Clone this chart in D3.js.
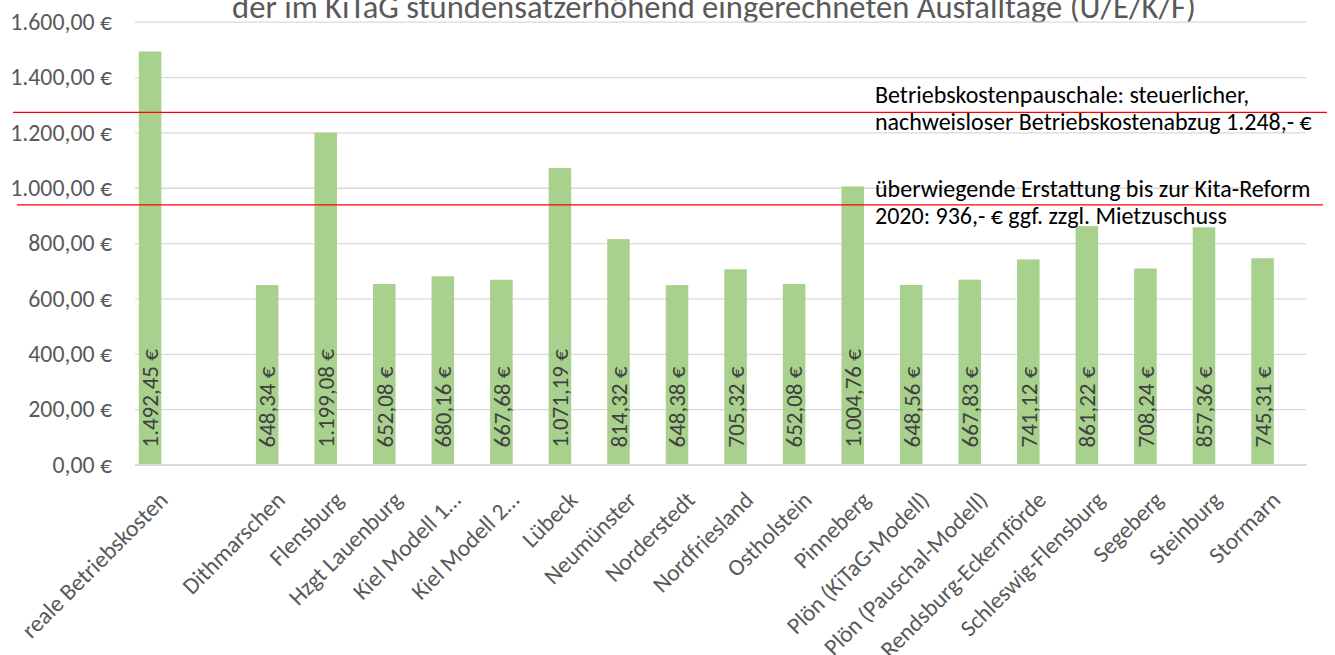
<!DOCTYPE html>
<html>
<head>
<meta charset="utf-8">
<script src="https://cdn.jsdelivr.net/npm/d3@7"></script>
<style>
  body { margin: 0; background: #fff; }
  svg { display: block; font-family: Carlito, Lato, "Open Sans", sans-serif; }
</style>
</head>
<body>
<div id="chart"></div>
<script>
// categories (one empty slot after the real costs)
const categories = ["reale Betriebskosten", " ", "Dithmarschen", "Flensburg", "Hzgt Lauenburg",
    "Kiel Modell 1…", "Kiel Modell 2…", "Lübeck", "Neumünster", "Norderstedt", "Nordfriesland",
    "Ostholstein", "Pinneberg", "Plön (KiTaG-Modell)", "Plön (Pauschal-Modell)",
    "Rendsburg-Eckernförde", "Schleswig-Flensburg", "Segeberg", "Steinburg", "Stormarn"];
const values = [1492.45, null, 648.34, 1199.08, 652.08, 680.16, 667.68, 1071.19, 814.32, 648.38,
    705.32, 652.08, 1004.76, 648.56, 667.83, 741.12, 861.22, 708.24, 857.36, 745.31];
const yTicks = [0, 200, 400, 600, 800, 1000, 1200, 1400, 1600];
// red reference lines as drawn in the picture
const refValues = [1272, 938];
const refTexts = [
    ["Betriebskostenpauschale: steuerlicher,", "nachweisloser Betriebskostenabzug 1.248,- €"],
    ["überwiegende Erstattung bis zur Kita-Reform", "2020: 936,- € ggf. zzgl. Mietzuschuss"]
];
const titleText = "der im KiTaG stundensatzerhöhend eingerechneten Ausfalltage (U/E/K/F)";

const width = 1335, height = 655;
const plot = {left: 135, right: 1306, top: 21.7, bottom: 464.5};

const de = d3.formatLocale({decimal: ",", thousands: ".", grouping: [3], currency: ["", " €"]});
const fmt = de.format("$,.2f");

const svg = d3.select("#chart").append("svg")
    .attr("width", width)
    .attr("height", height);

const x = d3.scaleBand().domain(categories).range([plot.left, plot.right]).padding(0);
const y = d3.scaleLinear().domain([0, 1600]).range([plot.bottom, plot.top]);

// title (only its lower part is visible, as in the original)
svg.append("text")
    .attr("x", 714)
    .attr("y", 18)
    .attr("text-anchor", "middle")
    .attr("font-size", 32.6)
    .attr("fill", "#595959")
    .text(titleText);

// y axis + gridlines
const yAxisG = svg.append("g")
    .attr("transform", `translate(${plot.left},0)`)
    .call(d3.axisLeft(y).tickValues(yTicks).tickSize(-(plot.right - plot.left)).tickPadding(23).tickFormat(fmt))
    .attr("font-family", null)
    .attr("font-size", null);
yAxisG.select(".domain").remove();
yAxisG.selectAll(".tick line").attr("stroke", "#d9d9d9").attr("stroke-width", 1.3);
yAxisG.selectAll(".tick text").attr("fill", "#595959").attr("font-size", 23.8);

// bars
const data = categories.map((c, i) => ({cat: c, value: values[i]})).filter(d => d.value != null);
const barOff = x.bandwidth() * 0.065, barW = x.bandwidth() * 0.385;

svg.append("g").selectAll("rect")
    .data(data)
    .join("rect")
    .attr("x", d => x(d.cat) + barOff)
    .attr("width", barW)
    .attr("y", d => y(d.value))
    .attr("height", d => y(0) - y(d.value))
    .attr("fill", "#a9d18e");

// value labels, vertical at the bar base
svg.append("g").selectAll("text")
    .data(data)
    .join("text")
    .attr("transform", d => `translate(${x(d.cat) + barOff + barW / 2},${y(0) - 17}) rotate(-90)`)
    .attr("dy", "0.36em")
    .attr("text-anchor", "start")
    .attr("font-size", 23)
    .attr("fill", "#404040")
    .text(d => fmt(d.value));

// x axis
const xAxisG = svg.append("g")
    .attr("transform", `translate(0,${plot.bottom})`)
    .call(d3.axisBottom(x).tickSize(0).tickFormat(d => d.trim()))
    .attr("font-family", null)
    .attr("font-size", null);
xAxisG.select(".domain").attr("stroke", "#d9d9d9").attr("stroke-width", 2);
xAxisG.selectAll(".tick text")
    .attr("font-size", 23.5)
    .attr("fill", "#595959")
    .attr("text-anchor", "end")
    .attr("dy", null)
    .attr("y", 0)
    .attr("transform", "translate(5,37) rotate(-45)");

// red reference lines and notes
svg.append("g").selectAll("line")
    .data(refValues)
    .join("line")
    .attr("x1", (d, i) => i === 0 ? 13 : 17)
    .attr("x2", (d, i) => i === 0 ? 1327 : 1323)
    .attr("y1", d => y(d))
    .attr("y2", d => y(d))
    .attr("stroke", "#ff0000")
    .attr("stroke-width", 1.3);

const notes = svg.append("g").attr("font-size", 24).attr("fill", "#000");
refTexts.forEach((lines, i) => {
    notes.append("text")
        .attr("x", 875)
        .attr("y", i === 0 ? 103 : 197)
        .selectAll("tspan")
        .data(lines)
        .join("tspan")
        .attr("x", 875)
        .attr("dy", (d, j) => j === 0 ? 0 : 26.5)
        .text(d => d);
});
</script>
</body>
</html>
